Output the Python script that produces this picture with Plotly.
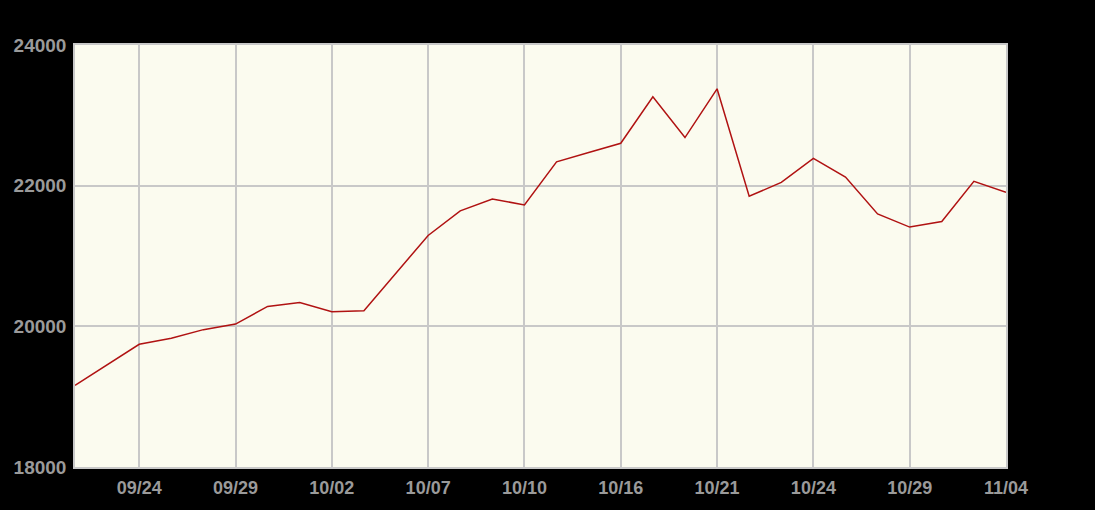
import plotly.graph_objects as go

dates = ["09/19", "09/22", "09/24", "09/25", "09/26", "09/29", "09/30", "10/01", "10/02", "10/03",
         "10/06", "10/07", "10/08", "10/09", "10/10", "10/14", "10/15", "10/16", "10/17", "10/20",
         "10/21", "10/22", "10/23", "10/24", "10/27", "10/28", "10/29", "10/30", "10/31", "11/04"]
values = [19161, 19452, 19745, 19830, 19953, 20032, 20283, 20339, 20208, 20222,
          20757, 21292, 21641, 21811, 21726, 22339, 22472, 22603, 23264, 22684,
          23377, 21849, 22047, 22387, 22122, 21599, 21411, 21490, 22061, 21906]
x_ticks = ["09/24", "09/29", "10/02", "10/07", "10/10", "10/16", "10/21", "10/24", "10/29", "11/04"]
y_ticks = [18000, 20000, 22000, 24000]

fig = go.Figure(go.Scatter(
    x=dates, y=values, mode="lines",
    line=dict(color="#b01212", width=1.5),
    hoverinfo="x+y",
))

font_color = "#9a9a9a"
fig.update_layout(
    width=1095, height=510,
    paper_bgcolor="#000000",
    plot_bgcolor="#fbfbef",
    margin=dict(l=75, r=89, t=45, b=37),
    showlegend=False,
    font=dict(family="Liberation Sans, Arial, sans-serif", color=font_color),
    xaxis=dict(
        type="category",
        range=[0, len(dates) - 1],
        tickmode="array", tickvals=x_ticks, ticktext=x_ticks,
        showgrid=True, gridcolor="#c8c8c8", gridwidth=1.5,
        showline=True, linecolor="#c8c8c8", linewidth=1.5, mirror=True,
        ticks="", tickfont=dict(size=18, color=font_color, weight="bold"),
        ticklabelstandoff=4,
        zeroline=False, fixedrange=True,
    ),
    yaxis=dict(
        range=[18000, 24000],
        tickmode="array", tickvals=y_ticks, ticktext=[str(v) for v in y_ticks],
        showgrid=True, gridcolor="#c8c8c8", gridwidth=1.5,
        showline=True, linecolor="#c8c8c8", linewidth=1.5, mirror=True,
        ticks="", tickfont=dict(size=19, color=font_color, weight="bold"),
        ticklabelstandoff=3,
        zeroline=False, fixedrange=True,
    ),
)

fig.write_html(
    "out.html",
    config={"displayModeBar": False},
    post_script="document.body.style.margin='0';document.body.style.overflow='hidden';document.body.style.background='#000';",
)
